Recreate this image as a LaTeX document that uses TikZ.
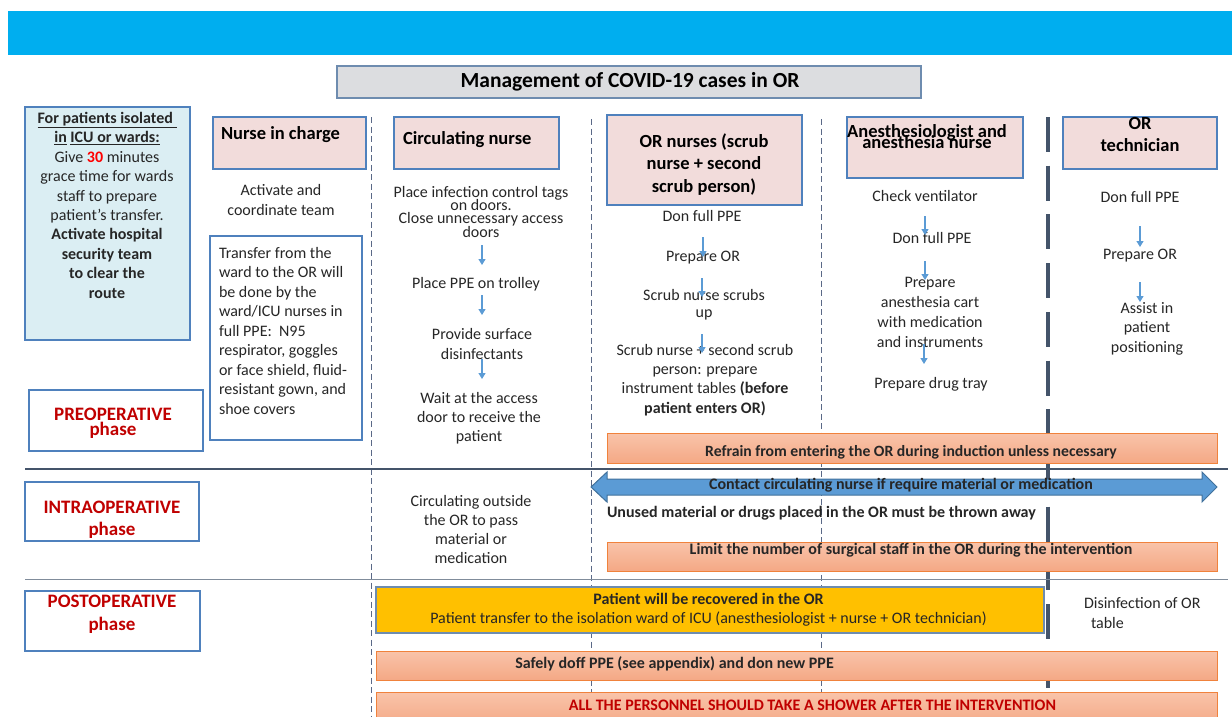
\documentclass[tikz,border=0pt]{standalone}
\usepackage{fontspec}
\setmainfont{Carlito}
\usetikzlibrary{arrows.meta}
\definecolor{banner}{RGB}{0,174,239}
\definecolor{txt}{RGB}{38,38,38}
\definecolor{pinkf}{RGB}{242,220,219}
\definecolor{bbord}{RGB}{79,129,189}
\definecolor{lblue}{RGB}{219,238,243}
\definecolor{titlef}{RGB}{220,221,224}
\definecolor{titleb}{RGB}{110,140,175}
\definecolor{phred}{RGB}{192,0,0}
\definecolor{brightred}{RGB}{255,0,0}
\definecolor{oranb}{RGB}{240,130,60}
\definecolor{orantop}{RGB}{249,196,170}
\definecolor{oranbot}{RGB}{244,168,133}
\definecolor{arrowb}{RGB}{91,155,213}
\definecolor{arrowd}{RGB}{65,113,156}
\definecolor{yel}{RGB}{255,192,0}
\definecolor{slate}{RGB}{68,84,106}
\definecolor{hlinetwo}{RGB}{128,140,155}
\definecolor{dashc}{RGB}{90,105,135}

\newcommand\tight{\lineskiplimit=-50pt\lineskip=0pt}
\newcommand\bodyfont{\fontsize{16}{19.5}\selectfont\tight}
\newcommand\headfont{\fontsize{18.5}{22.5}\selectfont\bfseries\tight}
\newcommand\phasefont{\fontsize{19}{22}\selectfont\bfseries\tight}
\newcommand\bandfont{\fontsize{16}{18}\selectfont\bfseries\tight}
\newcommand\mkbox[6]{\node[#1, minimum width={(#5)-(#3)}, minimum height={(#6)-(#4)}] (#2) at (#3,#4) {};}

\begin{document}
\begin{tikzpicture}[x=1pt,y=-1pt,
  every node/.style={inner sep=0pt, outer sep=0pt, text=txt, font=\bodyfont},
  box/.style={draw=bbord, line width=1.1pt, anchor=north west},
  pinkbox/.style={box, fill=pinkf},
  whitebox/.style={box, fill=white},
  bluebox/.style={box, fill=lblue},
  titlebox/.style={anchor=north west, draw=titleb, line width=1.1pt, fill=titlef},
  yellowbox/.style={anchor=north west, draw=titleb, line width=1.1pt, fill=yel},
  orangebox/.style={anchor=north west, draw=oranb, line width=1pt, top color=orantop, bottom color=oranbot},
  txtc/.style={anchor=base, align=center},
  txtl/.style={anchor=base west, align=left},
  vdash/.style={draw=dashc, line width=1pt, dash pattern=on 6pt off 3.5pt},
  thickdash/.style={draw=slate, line width=4pt, dash pattern=on 35pt off 13.7pt},
  sarr/.style={draw=arrowb, line width=1.2pt, -{Triangle[length=6pt,width=7pt]}},
  phase/.style={anchor=base, align=center, text=phred, font=\phasefont},
  head/.style={font=\headfont, text=black},
  band/.style={font=\bandfont}
]
\useasboundingbox (0,0) rectangle (1232,716);

% banner and title
\mkbox{anchor=north west, fill=banner}{banner}{8}{11}{1232}{55}
\mkbox{titlebox}{title}{337}{66}{921}{98}
\node[anchor=base, text=black, font={\fontsize{21.5}{24}\selectfont\bfseries}] (ttl) at (630,87) {Management of COVID-19 cases in OR};

% column separators
\draw[vdash] (371,117) -- (371,716);
\draw[vdash] (591,119) -- (591,716);
\draw[vdash] (821,119) -- (821,716);
\draw[thickdash] (1048,117) -- (1048,716);

% phase separators
\draw[slate, line width=1.3pt] (25,469) -- (1228,469);
\draw[hlinetwo, line width=1.3pt] (25,579.5) -- (1228,579.5);

% boxes
\mkbox{bluebox}{iso}{25}{107}{190}{340}
\mkbox{pinkbox}{nicbox}{213}{117}{366}{169}
\mkbox{whitebox}{trbox}{210}{236}{362}{440}
\mkbox{whitebox}{preop}{29}{390}{203}{451}
\mkbox{pinkbox}{circbox}{394}{117}{559}{169}
\mkbox{pinkbox}{ornbox}{607}{115}{802}{205}
\mkbox{pinkbox}{anbox}{847}{117}{1023}{178}
\mkbox{pinkbox}{otbox}{1063}{117}{1217}{169}
\mkbox{orangebox}{refrain}{607}{433}{1217}{463}
\mkbox{whitebox}{intraop}{25}{482}{199}{541}
\mkbox{orangebox}{limit}{607}{542}{1217}{571}
\mkbox{whitebox}{postop}{25}{591}{200}{651}
\mkbox{yellowbox}{recov}{376}{587}{1044}{633}
\mkbox{orangebox}{doff}{376}{651}{1217}{680}
\mkbox{orangebox}{shower}{376}{692}{1217}{726}

% double arrow
\filldraw[fill=arrowb, draw=arrowd, line width=1pt]
  (591,487) -- (607,472) -- (607,479) -- (1202,479) -- (1202,472) -- (1217,487)
  -- (1202,502) -- (1202,495) -- (607,495) -- (607,502) -- cycle;

% left info box text (base = last line)
\node[txtc, font=\fontsize{16}{19.4}\selectfont\tight] (isotext) at (107,298) {\bfseries\underline{For patients isolated\ }\\
  \bfseries\underline{in} \underline{ICU or wards:}\\
  Give {\color{brightred}\bfseries 30} minutes\\
  grace time for wards\\
  staff to prepare\\
  patient's transfer.\\
  \bfseries Activate hospital\\
  \bfseries security team\\
  \bfseries to clear the\\
  \bfseries route};

% phase labels
\node[phase, font=\fontsize{19}{15}\selectfont\bfseries\tight] (preopt) at (113,435) {PREOPERATIVE\\phase};
\node[phase] (intraopt) at (112,535) {INTRAOPERATIVE\\phase};
\node[phase, font=\fontsize{19}{23}\selectfont\bfseries\tight] (postopt) at (112,630) {POSTOPERATIVE\\phase};

% headings
\node[head, anchor=base west] (nict) at (221,139) {Nurse in charge};
\node[head, anchor=base west] (circt) at (403,144) {Circulating nurse};
\node[head, anchor=base, align=center] (ornt) at (704,192) {OR nurses (scrub\\nurse + second\\scrub person)};
\node[head, anchor=base, align=center, font=\fontsize{18.5}{11}\selectfont\bfseries\tight] (ant) at (927,148) {Anesthesiologist and\\anesthesia nurse};
\node[head, anchor=base, align=center, font=\fontsize{18.5}{22}\selectfont\bfseries\tight] (ott) at (1140,151) {OR\\technician};

% nurse in charge
\node[txtc] (nic1) at (281,215) {Activate and\\coordinate team};
\node[txtl] (tr) at (219,414) {Transfer from the\\ward to the OR will\\be done by the\\ward/ICU nurses in\\full PPE:\ \ N95\\respirator, goggles\\or face shield, fluid-\\resistant gown, and\\shoe covers};

% circulating nurse
\node[txtc, font=\fontsize{16}{13.3}\selectfont\tight] (cn1) at (481,237) {Place infection control tags\\on doors.\\Close unnecessary access\\doors};
\node[txtc] (cn2) at (476,288) {Place PPE on trolley};
\node[txtc, font=\fontsize{16}{20}\selectfont\tight] (cn3) at (482,359) {Provide surface\\disinfectants};
\node[txtc, font=\fontsize{16}{19}\selectfont\tight] (cn4) at (479,441) {Wait at the access\\door to receive the\\patient};
\node[txtc, font=\fontsize{16}{19}\selectfont\tight] (co) at (471,563) {Circulating outside\\the OR to pass\\material or\\medication};

% OR nurses
\node[txtc] (on1) at (702,221) {Don full PPE};
\node[txtc] (on2) at (703,261) {Prepare OR};
\node[txtc, font=\fontsize{16}{17}\selectfont\tight] (on3) at (704,317) {Scrub nurse scrubs\\up};
\node[txtc, font=\fontsize{16}{19.3}\selectfont\tight] (on4) at (705,413) {Scrub nurse + second scrub\\person: prepare\\instrument tables \textbf{(before}\\\textbf{patient enters OR)}};

% anesthesia
\node[txtc] (an1) at (925,201) {Check ventilator};
\node[txtc] (an2) at (932,243) {Don full PPE};
\node[txtc, font=\fontsize{16}{19.7}\selectfont\tight] (an3) at (930,347) {Prepare\\anesthesia cart\\with medication\\and instruments};
\node[txtc] (an4) at (931,388) {Prepare drug tray};

% OR technician
\node[txtc] (ot1) at (1140,202) {Don full PPE};
\node[txtc] (ot2) at (1140,259) {Prepare OR};
\node[txtc] (ot3) at (1147,352) {Assist in\\patient\\positioning};
\node[txtl] (dis) at (1084,628) {Disinfection of OR\\\hspace*{7pt}table};

% band texts
\node[band, anchor=base, font=\fontsize{15.7}{18}\selectfont\bfseries] (refraint) at (911,456) {Refrain from entering the OR during induction unless necessary};
\node[band, anchor=base] (contact) at (901,489) {Contact circulating nurse if require material or medication};
\node[band, anchor=base west] (unused) at (607,517) {Unused material or drugs placed in the OR must be thrown away};
\node[band, anchor=base] (limitt) at (911,554) {Limit the number of surgical staff in the OR during the intervention};
\node[anchor=base, align=center, font=\fontsize{16}{19}\selectfont\tight] (recovt) at (708.5,623) {\textbf{Patient will be recovered in the OR}\\Patient transfer to the isolation ward of ICU (anesthesiologist + nurse + OR technician)};
\node[band, anchor=base] (dofft) at (674.5,668) {Safely doff PPE (see appendix) and don new PPE};
\node[band, anchor=base, text=phred] (showert) at (812.5,710) {ALL THE PERSONNEL SHOULD TAKE A SHOWER AFTER THE INTERVENTION};

% flow arrows (from the last baseline of one step towards the next)
\draw[sarr] ([xshift=1pt,yshift=-8pt]cn1.base) -- ([xshift=1pt,yshift=-28pt]cn1.base);
\draw[sarr] ([xshift=6pt,yshift=-7pt]cn2.base) -- ([xshift=6pt,yshift=-27pt]cn2.base);
\draw[sarr] ([yshift=0pt]cn3.base) -- ([yshift=-20pt]cn3.base);
\draw[sarr] ([xshift=1pt,yshift=-16pt]on1.base) -- ([xshift=1pt,yshift=-36pt]on1.base);
\draw[sarr] ([xshift=-1pt,yshift=-17pt]on2.base) -- ([xshift=-1pt,yshift=-36pt]on2.base);
\draw[sarr] ([xshift=-2pt,yshift=-17pt]on3.base) -- ([xshift=-2pt,yshift=-36pt]on3.base);
\draw[sarr] ([yshift=-15pt]an1.base) -- ([yshift=-34pt]an1.base);
\draw[sarr] ([xshift=-7pt,yshift=-18pt]an2.base) -- ([xshift=-7pt,yshift=-37pt]an2.base);
\draw[sarr] ([xshift=-6pt,yshift=3pt]an3.base) -- ([xshift=-6pt,yshift=-17pt]an3.base);
\draw[sarr] ([yshift=-24pt]ot1.base) -- ([yshift=-45pt]ot1.base);
\draw[sarr] ([yshift=-23pt]ot2.base) -- ([yshift=-43pt]ot2.base);
\end{tikzpicture}
\end{document}
